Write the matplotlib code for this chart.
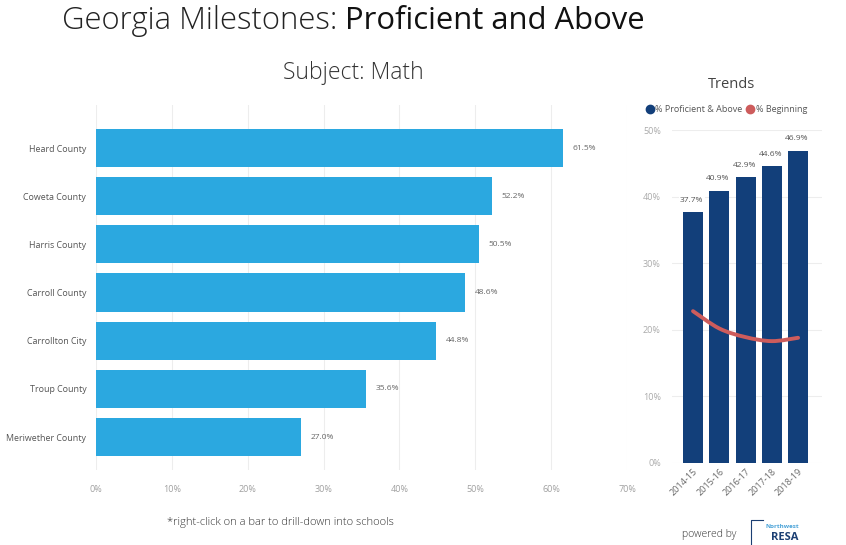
import matplotlib
matplotlib.use("Agg")
import matplotlib.pyplot as plt
from matplotlib.path import Path
from matplotlib.patches import PathPatch
from matplotlib.lines import Line2D
import numpy as np

plt.rcParams['font.family'] = ['Open Sans', 'DejaVu Sans']

# ---- data ----
counties = ["Heard County", "Coweta County", "Harris County", "Carroll County",
            "Carrollton City", "Troup County", "Meriwether County"]
county_pct = [61.5, 52.2, 50.5, 48.6, 44.8, 35.6, 27.0]

years = ["2014-15", "2015-16", "2016-17", "2017-18", "2018-19"]
proficient_pct = [37.7, 40.9, 42.9, 44.6, 46.9]
beginning_pct = [22.8, 20.2, 18.9, 18.3, 18.8]

x_ticks_left = [0, 10, 20, 30, 40, 50, 60, 70]
y_ticks_right = [0, 10, 20, 30, 40, 50]

W, H = 846, 545
fig = plt.figure(figsize=(W / 100, H / 100), dpi=100)
fig.patch.set_facecolor("white")

def fx(px):
    return px / W

def fy(py):
    return 1 - py / H

# ---- titles ----
t1 = fig.text(fx(62), fy(21), "Georgia Milestones: ", fontsize=22.3, fontweight="light",
              color="#222222", va="center", ha="left")
fig.canvas.draw()
bb = t1.get_window_extent()
fig.text(bb.x1 / W, fy(21), "Proficient and Above", fontsize=22.3, color="#111111",
         va="center", ha="left")
fig.text(fx(353), fy(73), "Subject: Math", fontsize=16.5, fontweight="light",
         color="#333333", va="center", ha="center")
fig.text(fx(731), fy(85), "Trends", fontsize=10.5, color="#444444", va="center", ha="center")

# ---- left bar chart ----
ax = fig.add_axes([fx(96), fy(470), fx(627) - fx(96), fy(105) - fy(470)])
ypos = np.arange(len(counties))
ax.barh(ypos, county_pct, height=0.79, color="#2BA8E0")
ax.set_xlim(0, 70)
ax.set_ylim(6.685, -0.893)
ax.set_yticks(ypos)
ax.set_yticklabels(counties, fontsize=6.4, color="#555555")
ax.set_xticks(x_ticks_left)
ax.set_xticklabels([f"{v}%" for v in x_ticks_left], fontsize=6.5, color="#A0A0A0")
ax.tick_params(length=0, axis="y", pad=7)
ax.tick_params(length=0, axis="x", pad=11)
for s in ax.spines.values():
    s.set_visible(False)
ax.grid(axis="x", color="#EDEDED", linewidth=0.8)
ax.set_axisbelow(True)
for y, v in zip(ypos, county_pct):
    ax.annotate(f"{v:.1f}%", (v, y), xytext=(7, 0), textcoords="offset points",
                fontsize=6, color="#666666", va="center", ha="left")

fig.text(fx(280), fy(522), "*right-click on a bar to drill-down into schools",
         fontsize=8, color="#333333", va="center", ha="center", fontweight="light")

# ---- right trends chart ----
ax2 = fig.add_axes([fx(672), fy(463), fx(822) - fx(672), fy(130) - fy(463)])
xpos = np.arange(len(years))
ax2.bar(xpos, proficient_pct, width=0.76, color="#123F7A", zorder=2)
ax2.set_xlim(-0.8, 4.91)
ax2.set_ylim(0, 50)
ax2.set_yticks(y_ticks_right)
ax2.set_yticklabels([f"{v}%" for v in y_ticks_right], fontsize=6.5, color="#AAAAAA")
ax2.set_xticks(xpos)
ax2.set_xticklabels(years, rotation=45, ha="right", rotation_mode="anchor",
                    fontsize=6.5, color="#666666")
ax2.tick_params(length=0, axis="y", pad=8)
ax2.tick_params(length=0, axis="x", pad=3)
for s in ax2.spines.values():
    s.set_visible(False)
ax2.grid(axis="y", color="#EDEDED", linewidth=0.8)
ax2.set_axisbelow(True)
for x, v in zip(xpos, proficient_pct):
    ax2.annotate(f"{v:.1f}%", (x, v), xytext=(-1, 6), textcoords="offset points",
                 fontsize=6, color="#555555", va="bottom", ha="center",
                 bbox=dict(boxstyle="square,pad=0.15", fc="white", ec="none"),
                 annotation_clip=False, zorder=4)

# smooth (Catmull-Rom rendered) line for % Beginning
pts = np.column_stack([xpos, beginning_pct]).astype(float)
verts = [tuple(pts[0])]
codes = [Path.MOVETO]
n = len(pts)
for i in range(n - 1):
    p0 = pts[i - 1] if i > 0 else pts[i]
    p1 = pts[i]
    p2 = pts[i + 1]
    p3 = pts[i + 2] if i + 2 < n else pts[i + 1]
    c1 = p1 + (p2 - p0) / 6.0
    c2 = p2 - (p3 - p1) / 6.0
    verts += [tuple(c1), tuple(c2), tuple(p2)]
    codes += [Path.CURVE4] * 3
ax2.add_patch(PathPatch(Path(verts, codes), fc="none", ec="#CD5C5C", lw=2.8,
                        capstyle="round", zorder=3))

handles = [Line2D([], [], marker="o", ls="none", color="#123F7A", markersize=6),
           Line2D([], [], marker="o", ls="none", color="#CD5C5C", markersize=6)]
fig.legend(handles, ["% Proficient & Above", "% Beginning"], ncol=2, loc="center",
           bbox_to_anchor=(fx(727), fy(110)), frameon=False, fontsize=6.5,
           handlelength=0.6, handletextpad=0.35, columnspacing=0.5, labelcolor="#555555")

# ---- footer ----
fig.text(fx(709), fy(534), "powered by", fontsize=7.5, color="#333333",
         va="center", ha="center", fontweight="light")
fig.text(fx(765), fy(527), "Northwest", fontsize=4.5, color="#4AA3D8",
         va="center", ha="left", fontweight="bold")
fig.text(fx(771), fy(538), "RESA", fontsize=8, color="#1B3F73",
         va="center", ha="left", fontweight="bold")
fig.add_artist(Line2D([fx(751), fx(751), fx(763)], [fy(545), fy(520), fy(520)],
                      color="#1B3F73", lw=0.8))

fig.savefig("out.png", dpi=100, facecolor="white")
